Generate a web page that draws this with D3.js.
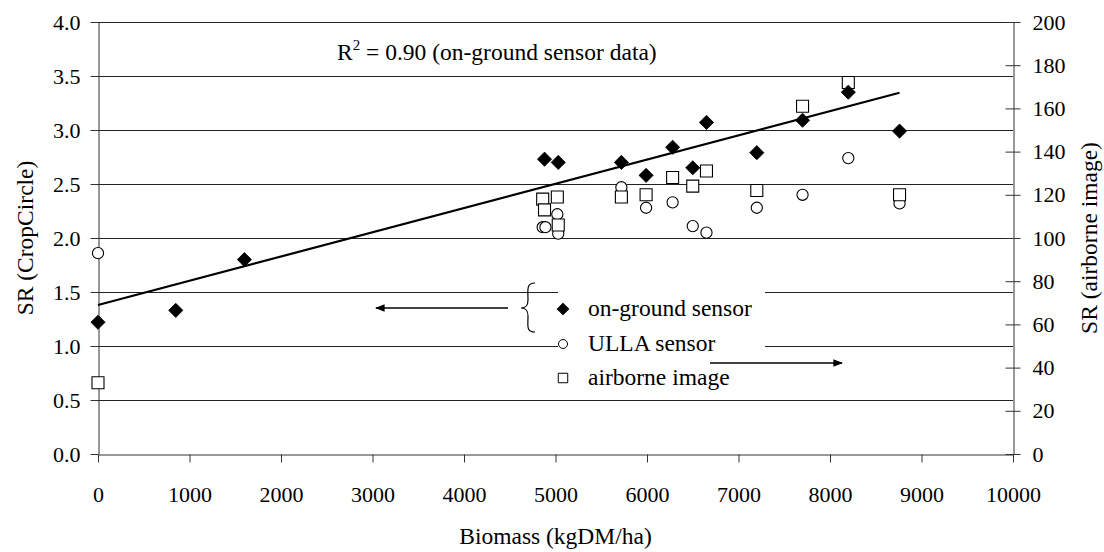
<!DOCTYPE html>
<html><head><meta charset="utf-8">
<script src="https://cdn.jsdelivr.net/npm/d3@7"></script>
<style>html,body{margin:0;padding:0;background:#fff;}</style></head>
<body>
<svg id="chart" width="1104" height="552"></svg>
<script>
// ---- data ----
const xTicks = [0,1000,2000,3000,4000,5000,6000,7000,8000,9000,10000];
const leftTicks = [0,0.5,1.0,1.5,2.0,2.5,3.0,3.5,4.0];
const rightTicks = [0,20,40,60,80,100,120,140,160,180,200];

const biomassGround = [0, 850, 1600, 4880, 5030, 5720, 5990, 6280, 6500, 6650, 7200, 7700, 8200, 8760];
const srGround      = [1.22, 1.33, 1.80, 2.73, 2.70, 2.70, 2.58, 2.84, 2.65, 3.07, 2.79, 3.09, 3.35, 2.99];

const biomassUlla = [0, 4860, 4890, 5020, 5030, 5720, 5990, 6280, 6500, 6650, 7200, 7700, 8200, 8760];
const srUlla      = [1.86, 2.10, 2.10, 2.22, 2.04, 2.47, 2.28, 2.33, 2.11, 2.05, 2.28, 2.40, 2.74, 2.32];

const biomassAir = [0, 4860, 4880, 5020, 5030, 5720, 5990, 6280, 6500, 6650, 7200, 7700, 8200, 8760];
const srAir      = [33, 118, 113, 119, 106, 119, 120, 128, 124, 131, 122, 161, 172, 120];

const trendBiomass = [0, 8760];
const trendSr      = [1.38, 3.345];

const legendLabels = ["on-ground sensor", "ULLA sensor", "airborne image"];

// ---- layout ----
const svg = d3.select("#chart");
const L = 98, R = 1013, T = 22, B = 454;
const x = d3.scaleLinear().domain([0,10000]).range([L,R]);
const yL = d3.scaleLinear().domain([0,4]).range([B,T]);
const yR = d3.scaleLinear().domain([0,200]).range([B,T]);

function txt(sel, size){ return sel.style("font-family","'Liberation Serif'").style("font-size",(size||"23.5px")).attr("fill","#000"); }

// gridlines
svg.append("g").selectAll("line").data(leftTicks.filter(d=>d>0)).join("line")
  .attr("x1",L).attr("x2",R)
  .attr("y1",d=>Math.round(yL(d))+0.5).attr("y2",d=>Math.round(yL(d))+0.5)
  .attr("stroke","#222").attr("stroke-width",1);

// axes
const gx = svg.append("g").attr("transform",`translate(0,${Math.round(B)+0.5})`)
  .call(d3.axisBottom(x).tickValues(xTicks).tickFormat(d3.format("d")).tickSize(8).tickSizeOuter(0).tickPadding(24));
const gl = svg.append("g").attr("transform",`translate(${L+0.5},0)`)
  .call(d3.axisLeft(yL).tickValues(leftTicks).tickFormat(d3.format(".1f")).tickSize(8).tickSizeOuter(0).tickPadding(10));
const gr = svg.append("g").attr("transform",`translate(${R+0.5},0)`)
  .call(d3.axisRight(yR).tickValues(rightTicks).tickFormat(d3.format("d")).tickSize(7).tickSizeOuter(0).tickPadding(12));
gr.selectAll(".tick line").attr("x1",-8);
[gx,gl,gr].forEach(g=>{
  g.attr("font-family",null).attr("font-size",null);
  g.selectAll("path").attr("stroke","#333");
  g.selectAll("line").attr("stroke","#333");
  txt(g.selectAll("text"), "22px");
});

// axis titles
txt(svg.append("text").attr("x",(L+R)/2).attr("y",544).attr("text-anchor","middle")).text("Biomass (kgDM/ha)");
txt(svg.append("text").attr("transform",`translate(33,${(T+B)/2}) rotate(-90)`).attr("text-anchor","middle")).text("SR (CropCircle)");
txt(svg.append("text").attr("transform",`translate(1097,${(T+B)/2}) rotate(-90)`).attr("text-anchor","middle")).text("SR (airborne image)");

// R^2 annotation
const rt = txt(svg.append("text").attr("x",337).attr("y",60));
rt.append("tspan").text("R");
rt.append("tspan").style("font-size","15px").attr("dy",-10).text("2");
rt.append("tspan").attr("dy",10).text(" = 0.90 (on-ground sensor data)");

// trend line
const line = d3.line().x(d=>x(d[0])).y(d=>yL(d[1]));
svg.append("path").datum(trendBiomass.map((b,i)=>[b,trendSr[i]]))
  .attr("d",line).attr("fill","none").attr("stroke","#000").attr("stroke-width",2.2);

// symbols
const circ = d3.symbol().type(d3.symbolCircle).size(Math.PI*5.6*5.6);
const sq = d3.symbol().type(d3.symbolSquare).size(12*12);
const dia = d3.symbol().type(d3.symbolSquare).size(10*10);

svg.append("g").selectAll("path").data(biomassUlla.map((b,i)=>[b,srUlla[i]])).join("path")
  .attr("d",circ).attr("transform",d=>`translate(${x(d[0])},${yL(d[1])})`)
  .attr("fill","#fff").attr("stroke","#000").attr("stroke-width",1.1);
svg.append("g").selectAll("path").data(biomassAir.map((b,i)=>[b,srAir[i]])).join("path")
  .attr("d",sq).attr("transform",d=>`translate(${x(d[0])},${yR(d[1])})`)
  .attr("fill","#fff").attr("stroke","#000").attr("stroke-width",1.1);
svg.append("g").selectAll("path").data(biomassGround.map((b,i)=>[b,srGround[i]])).join("path")
  .attr("d",dia).attr("transform",d=>`translate(${x(d[0])},${yL(d[1])}) rotate(45)`)
  .attr("fill","#000").attr("stroke","#000").attr("stroke-width",0.8);

// legend box
svg.append("rect").attr("x",558).attr("y",284).attr("width",207).attr("height",108).attr("fill","#fff");
const legY = [309, 344, 378];
const legSym = [d3.symbol().type(d3.symbolSquare).size(64), d3.symbol().type(d3.symbolCircle).size(Math.PI*4.5*4.5), d3.symbol().type(d3.symbolSquare).size(90)];
legendLabels.forEach((lab,i)=>{
  svg.append("path").attr("d",legSym[i]).attr("transform",`translate(563,${legY[i]})${i===0?" rotate(45)":""}`)
    .attr("fill",i===0?"#000":"#fff").attr("stroke","#000").attr("stroke-width",1);
  txt(svg.append("text").attr("x",588).attr("y",legY[i]+7)).text(lab);
});

// brace
svg.append("path").attr("d","M535,283 C526,283 528,290 528,300 C528,306 526,308 521,308 C526,308 528,310 528,316 C528,326 526,332 535,332")
  .attr("fill","none").attr("stroke","#000").attr("stroke-width",1.2);

// arrows
svg.append("defs").append("marker").attr("id","ah").attr("viewBox","0 0 10 10").attr("refX",9).attr("refY",5)
  .attr("markerWidth",6).attr("markerHeight",6).attr("orient","auto-start-reverse")
  .append("path").attr("d","M0,1 L10,5 L0,9 Z").attr("fill","#000");
svg.append("line").attr("x1",508).attr("y1",308).attr("x2",376).attr("y2",308)
  .attr("stroke","#000").attr("stroke-width",1.6).attr("marker-end","url(#ah)");
svg.append("line").attr("x1",710).attr("y1",363).attr("x2",842).attr("y2",363)
  .attr("stroke","#000").attr("stroke-width",1.6).attr("marker-end","url(#ah)");
</script>
</body></html>
